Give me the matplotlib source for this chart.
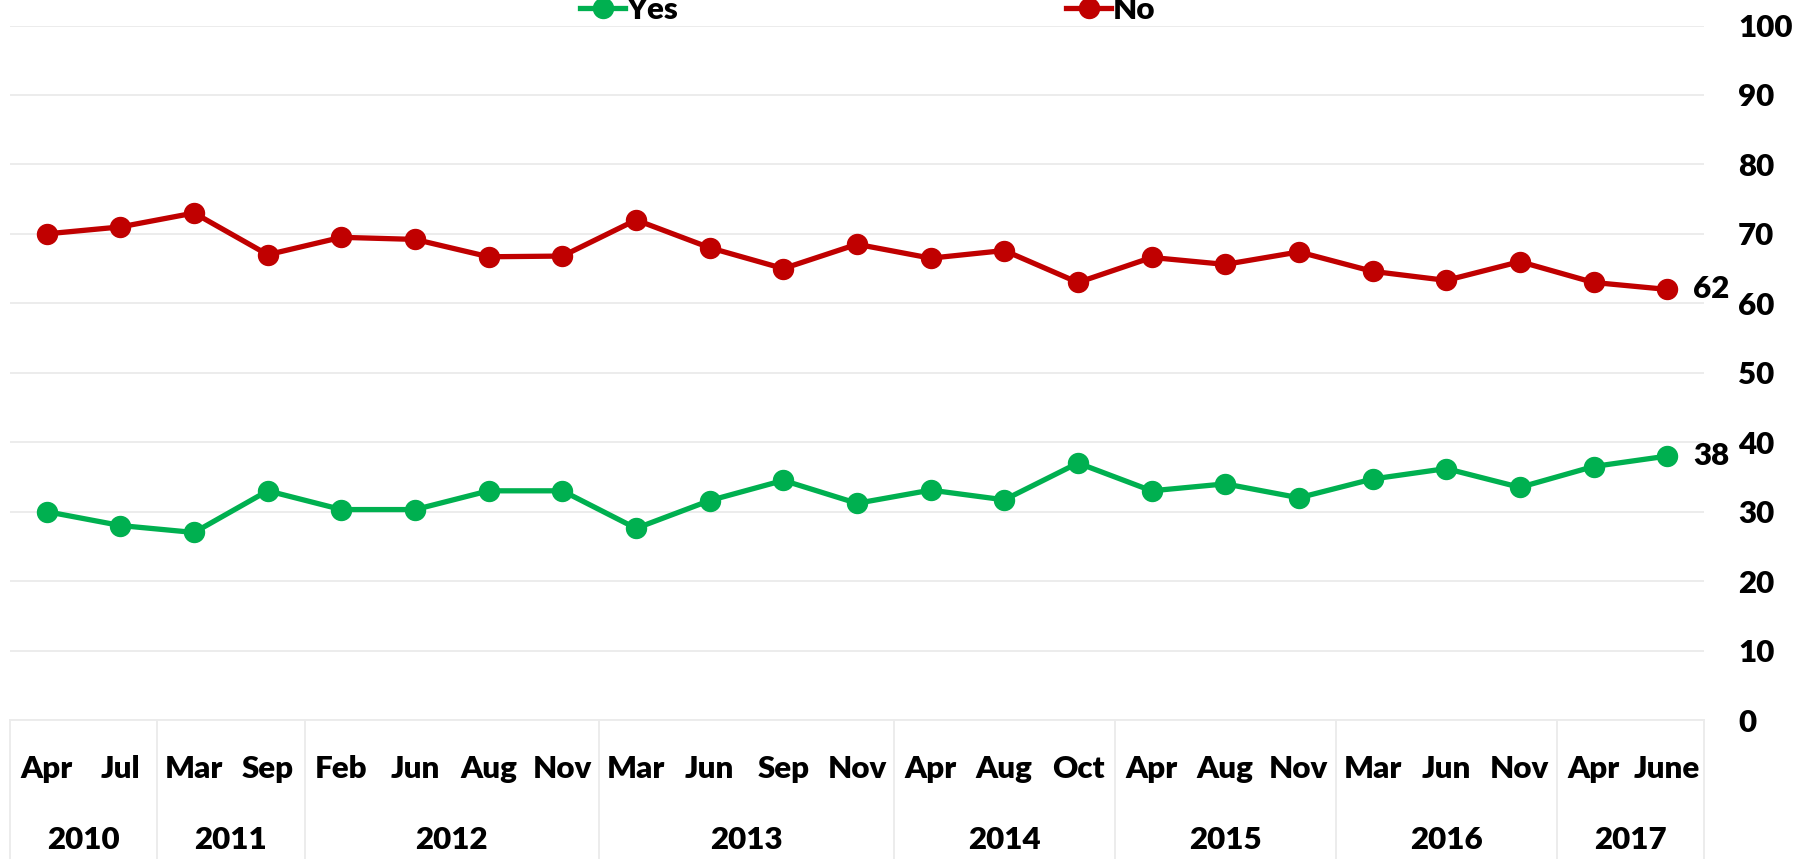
import numpy as np
import matplotlib.pyplot as plt
from matplotlib.lines import Line2D

plt.rcParams['font.family'] = ['Lato', 'DejaVu Sans']
plt.rcParams['font.weight'] = 'heavy'

# data
months = ["Apr", "Jul", "Mar", "Sep", "Feb", "Jun", "Aug", "Nov", "Mar", "Jun", "Sep", "Nov",
          "Apr", "Aug", "Oct", "Apr", "Aug", "Nov", "Mar", "Jun", "Nov", "Apr", "June"]
years = ["2010", "2011", "2012", "2013", "2014", "2015", "2016", "2017"]
year_counts = [2, 2, 4, 4, 3, 3, 3, 2]
yes = [30, 28, 27, 33, 30.3, 30.3, 33, 33, 27.6, 31.6, 34.5, 31.2,
       33.1, 31.7, 37, 33, 34, 32, 34.7, 36.2, 33.5, 36.5, 38]
no = [70, 71, 73, 67, 69.5, 69.2, 66.7, 66.8, 72, 68, 65, 68.5,
      66.5, 67.6, 63, 66.6, 65.6, 67.4, 64.6, 63.3, 66, 63, 62]

green = "#00B050"
red = "#C00000"
grid_c = "#ebebeb"
fs = 22.5
lw, ms = 3.8, 14.4

W, H = 1800, 859
fig = plt.figure(figsize=(W / 100, H / 100), dpi=100)
ax = fig.add_axes([10 / W, (H - 720) / H, (1704 - 10) / W, (720 - 25.5) / H])

x = np.arange(len(months))
ax.plot(x, yes, color=green, lw=lw, marker='o', ms=ms, clip_on=False, zorder=3)
ax.plot(x, no, color=red, lw=lw, marker='o', ms=ms, clip_on=False, zorder=3)

ax.set_xlim(-0.5, len(months) - 0.5)
ax.set_ylim(0, 100)

# end labels
for series in (yes, no):
    ax.annotate(f"{series[-1]:.0f}", (x[-1], series[-1]), xytext=(18.5, 0),
                textcoords='offset points', va='center', ha='left', fontsize=fs)

# gridlines
ax.set_yticks(np.arange(0, 101, 10))
ax.yaxis.grid(True, color=grid_c, lw=1.3)
ax.set_axisbelow(True)
for s in ["top", "left", "right"]:
    ax.spines[s].set_visible(False)
ax.spines["bottom"].set_color(grid_c)
ax.spines["bottom"].set_linewidth(1.3)

ax.yaxis.tick_right()
ax.tick_params(axis='y', length=0, pad=24.5, labelsize=fs)

ax.set_xticks(x)
ax.set_xticklabels(months)
ax.tick_params(axis='x', length=0, pad=35.3, labelsize=fs)
for lab in ax.get_xticklabels():
    lab.set_va('center')

# year groups with separators
trans = ax.get_xaxis_transform()
start = 0
bounds = [-0.5]
for yr, n in zip(years, year_counts):
    mid = start + (n - 1) / 2
    ax.text(mid, -0.1728, yr, transform=trans, ha='center', va='center', fontsize=fs)
    start += n
    bounds.append(start - 0.5)
for b in bounds:
    ax.plot([b, b], [0, -0.21], transform=trans, color=grid_c, lw=1.3, clip_on=False)

handles = [Line2D([], [], color=green, lw=lw, marker='o', ms=ms),
           Line2D([], [], color=red, lw=lw, marker='o', ms=ms)]
fig.legend(handles, ["Yes", "No"], loc='center left', bbox_to_anchor=(580 / W, 1 - 10 / H),
           ncol=2, frameon=False, fontsize=fs, handlelength=1.45, handletextpad=0.05,
           columnspacing=12.4, borderpad=0, borderaxespad=0)

fig.savefig("out.png", dpi=100)
